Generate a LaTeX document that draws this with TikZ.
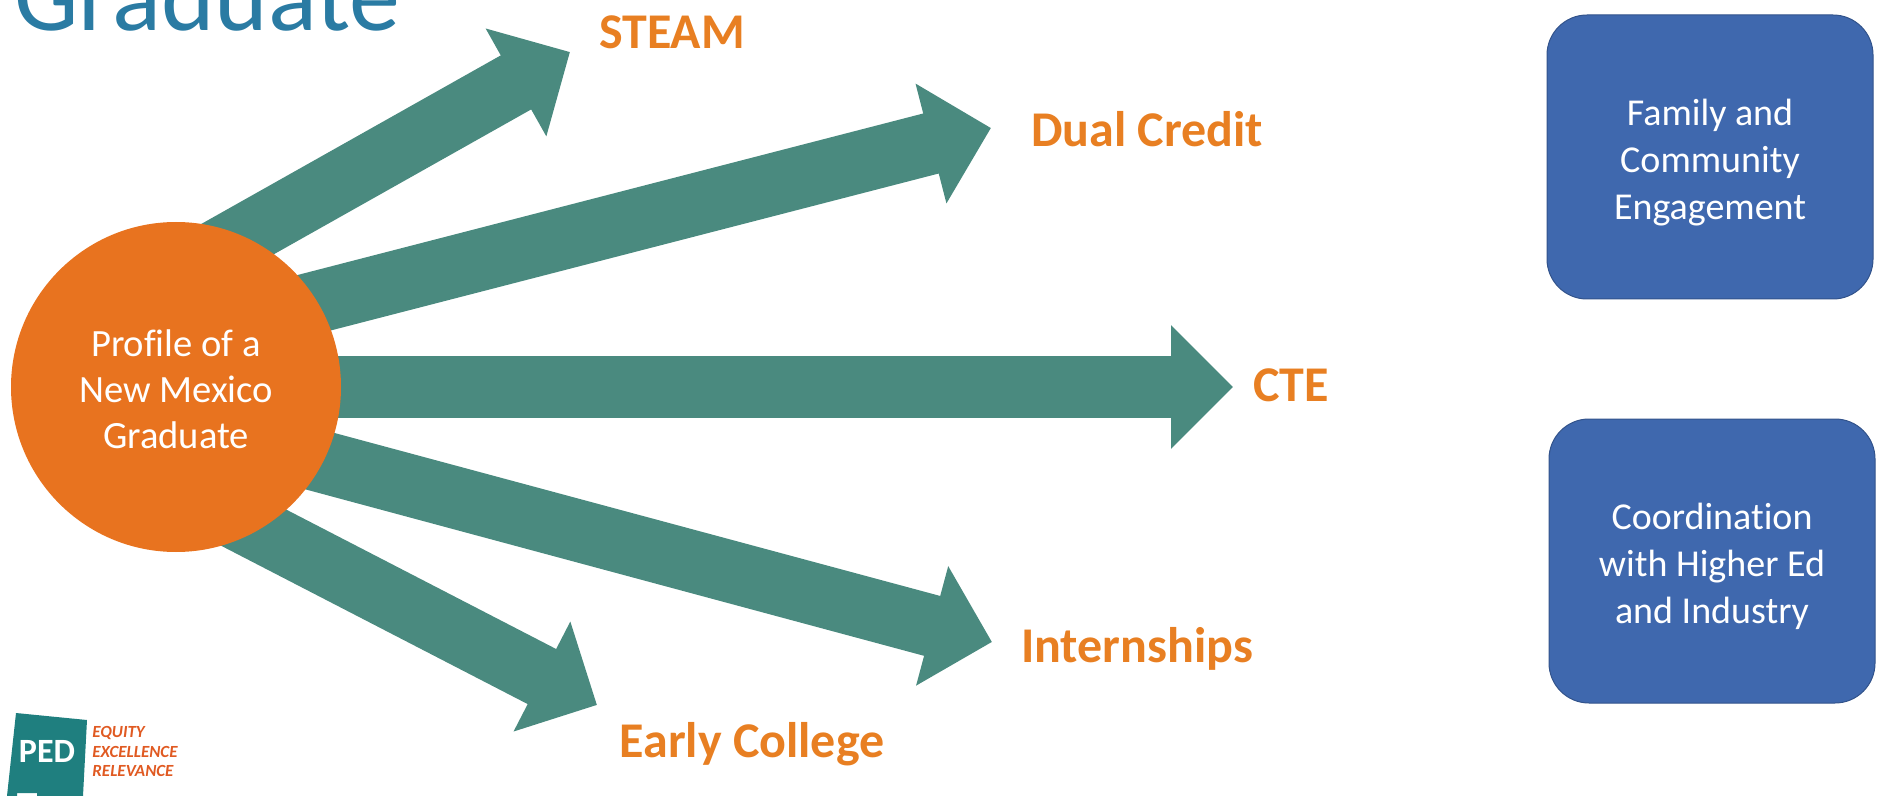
\documentclass[tikz,border=0pt]{standalone}
\usepackage{fontspec}
\setmainfont{Carlito}[Ligatures=CommonOff]
\usepackage{xcolor}
\usetikzlibrary{arrows.meta, backgrounds}

\definecolor{spoketeal}{HTML}{4A8A7F}
\definecolor{huborange}{HTML}{E8731F}
\definecolor{labelorange}{HTML}{E87F22}
\definecolor{boxblue}{HTML}{3F68AE}
\definecolor{titleblue}{HTML}{2A7BA3}
\definecolor{logoteal}{HTML}{1F7F7F}
\definecolor{logoorange}{HTML}{E05A22}

\tikzset{
    hub/.style={circle, fill=huborange, text=white, minimum size=165pt, inner sep=0pt, align=center,
        text height=62pt, font=\fontsize{19.3}{23}\selectfont},
    pathway/.style={text=labelorange, font=\fontsize{25}{30}\selectfont\bfseries},
    support/.style={rounded corners=20pt, draw=boxblue!80!black, line width=0.5pt, fill=boxblue, text=white,
        minimum width=163pt, minimum height=142pt, align=center, text height=66pt, font=\fontsize{19}{23.5}\selectfont},
    spoke/.style={draw=spoketeal, line width=31pt, shorten <=-25pt,
        -{Triangle[length=31pt, width=60pt]}},
    motto/.style={anchor=west, text=logoorange, inner sep=0pt, font=\fontsize{8.5}{10}\selectfont\bfseries\itshape},
}

\begin{document}
\begin{tikzpicture}[x=0.5pt, y=-0.5pt]
    \useasboundingbox (0, 0) rectangle (1883, 796);

    % title
    \node[anchor=base west, inner sep=0pt, text=titleblue, font=\fontsize{51}{60}\selectfont] (title) at (14, 31) {Graduate};

    % hub and labels
    \node[hub] (profile) at (176, 387) {Profile of a\\New Mexico\\Graduate};
    \node[pathway] (steam) at (672, 32) {STEAM};
    \node[pathway] (dual) at (1147, 129) {Dual Credit};
    \node[pathway] (cte) at (1291, 385) {CTE};
    \node[pathway] (intern) at (1137, 649) {Internships};
    \node[pathway] (early) at (752, 744) {Early College};

    % arrow ends
    \coordinate (tipsteam) at (570, 52);
    \coordinate (tipdual) at (991, 128);
    \coordinate (tipcte) at (1233, 387);
    \coordinate (tipintern) at (992, 642);
    \coordinate (tipearly) at (597, 705);

    % boxes
    \node[support] (family) at (1710, 157) {Family and\\Community\\Engagement};
    \node[support] (coord) at (1712, 561) {Coordination\\with Higher Ed\\and Industry};

    % logo
    \fill[logoteal] (16, 713) -- (87, 720) -- (83, 796) -- (37, 796) -- (37, 793) -- (17, 793) -- (17, 796) -- (7, 796) -- cycle;
    \node[inner sep=0pt, text=white, font=\fontsize{17}{20}\selectfont\bfseries] (ped) at (47, 751) {PED};
    \node[motto] (equity) at (92, 733) {EQUITY};
    \node[motto] (excellence) at (92, 752) {EXCELLENCE};
    \node[motto] (relevance) at (92, 771) {RELEVANCE};

    \begin{scope}[on background layer]
        \draw[spoke] (profile.66) -- (tipsteam);
        \draw[spoke] (profile.31) -- (tipdual);
        \draw[spoke] (profile.0) -- (tipcte);
        \draw[spoke] (profile.-27) -- (tipintern);
        \draw[spoke] (profile.-60.5) -- (tipearly);
    \end{scope}
\end{tikzpicture}
\end{document}
